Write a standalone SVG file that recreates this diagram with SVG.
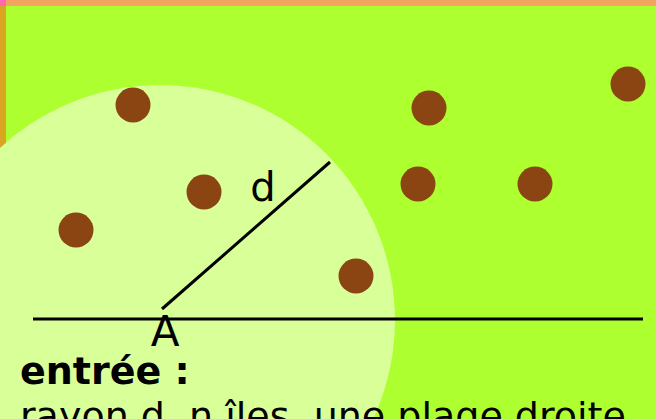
<svg xmlns="http://www.w3.org/2000/svg" width="656" height="419" viewBox="0 0 656 419">
  <style>
    .island { fill: #8b4513; }
    .ln { stroke: #000; stroke-width: 3; fill: none; }
    .lbl { font-family: "DejaVu Sans", "Liberation Sans", sans-serif; fill: #000; }
  </style>
  <rect x="0" y="0" width="656" height="419" fill="#adff2f"/>
  <rect x="0" y="0" width="656" height="6" fill="#f4a460"/>
  <rect x="0" y="0" width="6" height="419" fill="#daa520"/>
  <rect x="0" y="0" width="6" height="6" fill="#ff69b4"/>
  <circle id="zone" cx="160" cy="320" r="235" fill="#d8ff98"/>
  <g id="islands">
    <circle class="island" cx="133" cy="105" r="17.5"/>
    <circle class="island" cx="429" cy="108" r="17.5"/>
    <circle class="island" cx="628" cy="84" r="17.5"/>
    <circle class="island" cx="204" cy="192" r="17.5"/>
    <circle class="island" cx="418" cy="184" r="17.5"/>
    <circle class="island" cx="535" cy="184" r="17.5"/>
    <circle class="island" cx="76" cy="230" r="17.5"/>
    <circle class="island" cx="356" cy="276" r="17.5"/>
  </g>
  <g id="connectors">
    <line class="ln" x1="33" y1="319" x2="643" y2="319"/>
    <line class="ln" x1="162" y1="309" x2="330" y2="162"/>
  </g>
  <text class="lbl" x="263" y="201" font-size="40" text-anchor="middle">d</text>
  <text class="lbl" x="165" y="346" font-size="42" text-anchor="middle">A</text>
  <text class="lbl" x="20" y="384" font-size="38" font-weight="bold">entrée :</text>
  <text class="lbl" x="20" y="429" font-size="38">rayon d, n îles, une plage droite</text>
</svg>
